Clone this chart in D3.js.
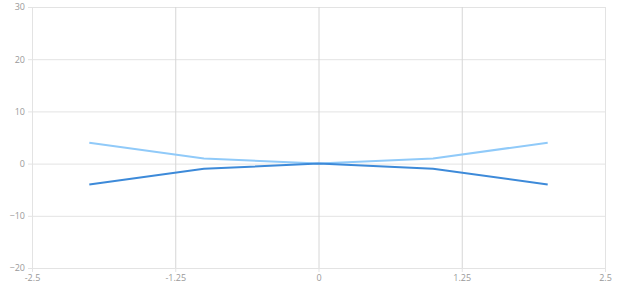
<!DOCTYPE html>
<html>
<head>
<meta charset="utf-8">
<script src="https://cdn.jsdelivr.net/npm/d3@7"></script>
<style>
body{margin:0;background:#fff;}
text{font-family:"Open Sans",sans-serif;}
</style>
</head>
<body>
<script>
// values
var xValues = [-2, -1, 0, 1, 2];
var upperValues = [4, 1, 0, 1, 4];
var lowerValues = [-4, -1, 0, -1, -4];
var xTicks = [-2.5, -1.25, 0, 1.25, 2.5];
var yTicks = [-20, -10, 0, 10, 20, 30];

var width = 620, height = 300;
var plotLeft = 32, plotRight = 605, plotTop = 7, plotBottom = 268;

var svg = d3.select("body").append("svg")
	.attr("width", width)
	.attr("height", height);

var x = d3.scaleLinear().domain([-2.5, 2.5]).range([plotLeft, plotRight]);
var y = d3.scaleLinear().domain([-20, 30]).range([plotBottom, plotTop]);

// horizontal grid
svg.append("g")
	.attr("transform", "translate(" + plotLeft + ",0)")
	.call(d3.axisLeft(y).tickValues(yTicks).tickSize(-(plotRight - plotLeft)).tickFormat(""))
	.call(function(g){
		g.select(".domain").remove();
		g.selectAll("line").attr("stroke", "#e3e3e3");
	});

// vertical grid
svg.append("g")
	.attr("transform", "translate(0," + plotBottom + ")")
	.call(d3.axisBottom(x).tickValues(xTicks).tickSize(-(plotBottom - plotTop)).tickFormat(""))
	.call(function(g){
		g.select(".domain").remove();
		g.selectAll("line").attr("stroke", function(d){ return (d == -2.5 || d == 2.5) ? "#e3e3e3" : "#d6d6d6"; });
	});

// y axis labels
var yAxis = svg.append("g")
	.attr("transform", "translate(" + plotLeft + ",0)")
	.call(d3.axisLeft(y).tickValues(yTicks).tickSize(4).tickPadding(3));
yAxis.select(".domain").attr("stroke", "#e3e3e3");
yAxis.selectAll("line").attr("stroke", "#e3e3e3");
yAxis.selectAll("text").attr("fill", "#999").style("font-size", "9px");

// x axis labels
var xAxis = svg.append("g")
	.attr("transform", "translate(0," + plotBottom + ")")
	.call(d3.axisBottom(x).tickValues(xTicks).tickSize(4).tickPadding(3).tickFormat(function(d){ return d; }));
xAxis.select(".domain").attr("stroke", "#e3e3e3");
xAxis.selectAll("line").attr("stroke", "#e3e3e3");
xAxis.selectAll("text").attr("fill", "#999").style("font-size", "9px");

var line = d3.line()
	.x(function(d){ return x(d[0]); })
	.y(function(d){ return y(d[1]); });

svg.append("path")
	.datum(d3.zip(xValues, upperValues))
	.attr("d", line)
	.attr("fill", "none")
	.attr("stroke", "#90caf9")
	.attr("stroke-width", 2);

svg.append("path")
	.datum(d3.zip(xValues, lowerValues))
	.attr("d", line)
	.attr("fill", "none")
	.attr("stroke", "#3d8ad9")
	.attr("stroke-width", 2);
</script>
</body>
</html>
